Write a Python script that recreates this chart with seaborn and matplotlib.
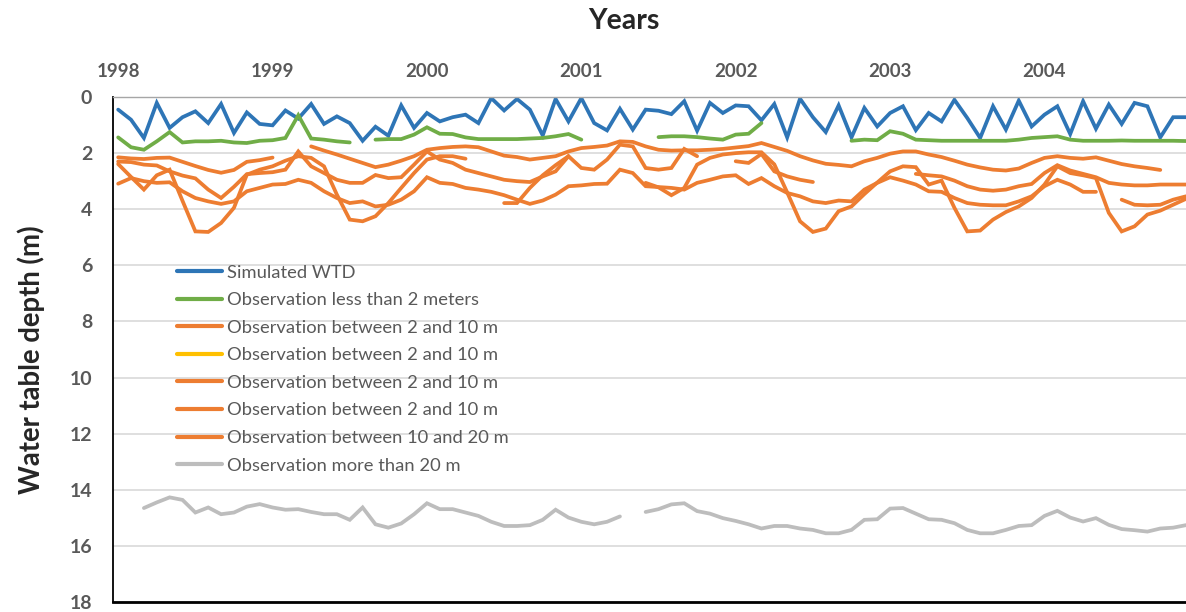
import numpy as np
import pandas as pd
import matplotlib.pyplot as plt
import seaborn as sns
from matplotlib.lines import Line2D

sns.set_style("white")
plt.rcParams["font.family"] = ["Lato", "DejaVu Sans"]

# === 1. Data (monthly, Jan 1998 - Dec 2004), depth in m, None = no record ===
year_labels = ["1998", "1999", "2000", "2001", "2002", "2003", "2004"]

simulated_wtd = [0.45, 0.81, 1.46, 0.21, 1.10, 0.72, 0.51, 0.93, 0.25, 1.28, 0.55, 0.96,
                 1.01, 0.48, 0.77, 0.25, 0.96, 0.69, 0.93, 1.56, 1.06, 1.38, 0.30, 1.10,
                 0.57, 0.87, 0.72, 0.63, 0.93, 0.04, 0.48, 0.07, 0.45, 1.37, 0.07, 0.87,
                 0.04, 0.93, 1.19, 0.42, 1.16, 0.45, 0.49, 0.61, 0.15, 1.20, 0.21, 0.57,
                 0.30, 0.33, 0.83, 0.25, 1.44, 0.06, 0.72, 1.25, 0.30, 1.44, 0.39, 1.05,
                 0.57, 0.33, 1.18, 0.57, 0.87, 0.10, 0.75, 1.46, 0.33, 1.16, 0.13, 1.05,
                 0.63, 0.33, 1.32, 0.15, 1.13, 0.27, 0.96, 0.21, 0.33, 1.44, 0.72, 0.72]

obs_lt2 = [1.44, 1.79, 1.88, 1.58, 1.25, 1.62, 1.58, 1.58, 1.56, 1.62, 1.64, 1.56,
           1.54, 1.46, 0.65, 1.48, 1.52, 1.58, 1.62, None, 1.52, 1.50, 1.50, 1.34,
           1.08, 1.31, 1.32, 1.44, 1.50, 1.50, 1.50, 1.50, 1.48, 1.46, 1.40, 1.32,
           1.52, None, None, None, None, None, 1.43, 1.40, 1.40, 1.43, 1.48, 1.52,
           1.34, 1.31, 0.93, None, None, None, None, None, None, 1.56, 1.52, 1.54,
           1.22, 1.31, 1.52, 1.54, 1.56, 1.56, 1.56, 1.56, 1.56, 1.56, 1.52, 1.46,
           1.43, 1.40, 1.52, 1.56, 1.56, 1.56, 1.55, 1.56, 1.56, 1.56, 1.56, 1.57]

obs_2_10_a = [2.15, 2.19, 2.21, 2.17, 2.16, 2.31, 2.46, 2.60, 2.70, 2.60, 2.31, 2.25,
              2.16, None, None, 1.76, 1.91, 2.05, 2.20, 2.35, 2.50, 2.41, 2.27, 2.11,
              1.88, 1.82, 1.78, 1.76, 1.79, 1.94, 2.09, 2.14, 2.23, 2.17, 2.11, 1.94,
              1.82, 1.78, 1.73, 1.58, 1.60, 1.76, 1.88, 1.91, 1.90, 1.90, 1.88, 1.85,
              1.80, 1.75, 1.64, 1.78, 1.92, 2.11, 2.26, 2.38, 2.42, 2.47, 2.29, 2.17,
              2.02, 1.94, 1.94, 2.05, 2.14, 2.27, 2.41, 2.51, 2.59, 2.62, 2.55, 2.35,
              2.17, 2.11, 2.17, 2.20, 2.15, 2.27, 2.39, 2.47, 2.53, 2.60, None, None]

obs_2_10_b = []  # shown in legend only, no visible records

obs_2_10_c = [2.30, 2.32, 2.41, 2.44, 2.65, 2.80, 2.90, 3.30, 3.60, 3.20, 2.75, 2.71,
              2.68, 2.59, 1.94, 2.47, 2.71, 2.95, 3.06, 3.06, 2.78, 2.89, 2.86, 2.41,
              1.94, 2.23, 2.35, 2.59, 2.71, 2.83, 2.95, 3.00, 3.03, 2.83, 2.65, 2.11,
              2.53, 2.59, 2.23, 1.70, 1.76, 2.53, 2.59, 2.53, 1.85, 2.11, None, None,
              2.29, 2.35, 2.03, 2.65, 2.83, 2.95, 3.03, None, None, None, None, None,
              None, None, 2.74, 2.79, 2.83, 2.98, 3.18, 3.30, 3.34, 3.30, 3.18, 3.10,
              2.71, 2.43, 2.62, 2.74, 2.86, 3.06, 3.12, 3.15, 3.15, 3.12, 3.12, 3.12]

obs_2_10_d = [2.39, 2.85, 3.30, 2.79, 2.59, 3.70, 4.79, 4.81, 4.49, 3.95, 2.77, 2.59,
              2.47, 2.27, 2.11, 2.17, 2.47, 3.48, 4.37, 4.43, 4.25, 3.78, 3.24, 2.71,
              2.23, 2.11, 2.11, 2.20, None, None, 3.78, 3.78, 3.24, 2.79, 2.43, 2.11,
              None, None, None, None, None, 3.06, 3.22, 3.50, 3.24, 2.41, 2.17, 2.05,
              2.00, 1.97, 1.97, 2.40, 3.40, 4.43, 4.81, 4.69, 4.07, 3.90, 3.46, 3.05,
              2.65, 2.47, 2.50, 3.12, 2.98, 3.95, 4.79, 4.76, 4.37, 4.10, 3.90, 3.60,
              3.12, 2.47, 2.71, 2.79, 2.89, 4.13, 4.79, 4.61, 4.19, 4.05, 3.84, 3.63]

obs_10_20 = [3.09, 2.89, 3.00, 3.06, 3.04, 3.36, 3.60, 3.72, 3.81, 3.72, 3.36, 3.24,
             3.12, 3.10, 2.95, 3.06, 3.36, 3.60, 3.78, 3.72, 3.90, 3.84, 3.66, 3.36,
             2.86, 3.06, 3.10, 3.24, 3.30, 3.38, 3.50, 3.66, 3.81, 3.69, 3.48, 3.18,
             3.15, 3.10, 3.09, 2.59, 2.71, 3.18, 3.21, 3.24, 3.30, 3.06, 2.95, 2.83,
             2.79, 3.10, 2.89, 3.18, 3.42, 3.54, 3.72, 3.78, 3.69, 3.72, 3.30, 3.06,
             2.86, 2.98, 3.12, 3.36, 3.38, 3.60, 3.78, 3.84, 3.86, 3.86, 3.72, 3.54,
             3.18, 2.95, 3.12, 3.38, 3.38, None, 3.66, 3.84, 3.86, 3.84, 3.66, 3.54]

obs_gt20 = [None, None, 14.65, 14.45, 14.27, 14.36, 14.81, 14.63, 14.87, 14.81, 14.60, 14.51,
            14.63, 14.71, 14.69, 14.79, 14.87, 14.87, 15.07, 14.63, 15.23, 15.35, 15.20, 14.87,
            14.48, 14.69, 14.69, 14.81, 14.93, 15.14, 15.29, 15.29, 15.26, 15.07, 14.71, 14.99,
            15.14, 15.23, 15.14, 14.95, None, 14.79, 14.69, 14.52, 14.48, 14.76, 14.85, 15.01,
            15.11, 15.23, 15.38, 15.29, 15.29, 15.38, 15.43, 15.55, 15.55, 15.43, 15.07, 15.05,
            14.67, 14.65, 14.85, 15.05, 15.07, 15.19, 15.43, 15.55, 15.55, 15.43, 15.29, 15.26,
            14.93, 14.75, 14.99, 15.13, 15.01, 15.25, 15.40, 15.44, 15.49, 15.38, 15.35, 15.26]

months = np.arange(len(simulated_wtd))

series = [
    ("Simulated WTD", simulated_wtd, "#2E75B6"),
    ("Observation less than 2 meters", obs_lt2, "#70AD47"),
    ("Observation between 2 and 10 m", obs_2_10_a, "#ED7D31"),
    ("Observation between 2 and 10 m", obs_2_10_b, "#FFC000"),
    ("Observation between 2 and 10 m", obs_2_10_c, "#ED7D31"),
    ("Observation between 2 and 10 m", obs_2_10_d, "#ED7D31"),
    ("Observation between 10 and 20 m", obs_10_20, "#ED7D31"),
    ("Observation more than 20 m", obs_gt20, "#BDBDBD"),
]

# === 2. Figure ===
fig = plt.figure(figsize=(11.86, 6.12), dpi=100)
ax = fig.add_axes([0.0953, 0.0163, 0.9047, 0.8252])

LW = 2.7
handles = []
for label, values, color in series:
    handles.append(Line2D([], [], color=color, lw=LW + 0.3, solid_capstyle="round"))
    if len(values) == 0:
        continue
    df = pd.DataFrame({"month": months[:len(values)], "depth": pd.Series(values, dtype=float)})
    # break the line where records are missing
    df["seg"] = df["depth"].isna().cumsum()
    df = df.dropna()
    sns.lineplot(data=df, x="month", y="depth", units="seg", estimator=None,
                 color=color, lw=LW, sort=False, legend=False, ax=ax,
                 solid_capstyle="round", solid_joinstyle="miter")

# === 3. Axes styling ===
ax.set_ylim(18, 0)
ax.set_yticks(range(0, 19, 2))
ax.set_xlim(-0.4, 83.0)
ax.xaxis.tick_top()
ax.set_xticks(range(0, 84, 12), year_labels)
ax.tick_params(axis="x", length=0, pad=12, labelsize=13.5, labelcolor="#595959")
ax.tick_params(axis="y", length=0, pad=15, labelsize=14, labelcolor="#595959")
for t in ax.get_xticklabels() + ax.get_yticklabels():
    t.set_fontweight("bold")

ax.yaxis.grid(True, color="#D9D9D9", lw=1.2)
ax.xaxis.grid(False)
ax.set_axisbelow(True)
ax.set_xlabel("")
ax.set_ylabel("")

ax.spines["right"].set_visible(False)
ax.spines["top"].set_color("#A6A6A6")
ax.spines["top"].set_linewidth(1.0)
ax.spines["left"].set_color("black")
ax.spines["left"].set_linewidth(1.3)
ax.spines["bottom"].set_color("black")
ax.spines["bottom"].set_linewidth(2.0)

fig.text(0.526, 0.966, "Years", ha="center", va="center", fontsize=20.5, fontweight="bold")
fig.text(0.026, 0.412, "Water table depth (m)", ha="center", va="center",
         rotation=90, fontsize=19.8, fontweight="bold")

leg = ax.legend(handles, [s[0] for s in series], loc="upper left",
                bbox_to_anchor=(0.0595, 0.668), frameon=False, fontsize=13.2,
                handlelength=2.45, handletextpad=0.27, labelspacing=0.63,
                borderaxespad=0, borderpad=0)
for t in leg.get_texts():
    t.set_color("#595959")

fig.savefig("out.png", dpi=100)
